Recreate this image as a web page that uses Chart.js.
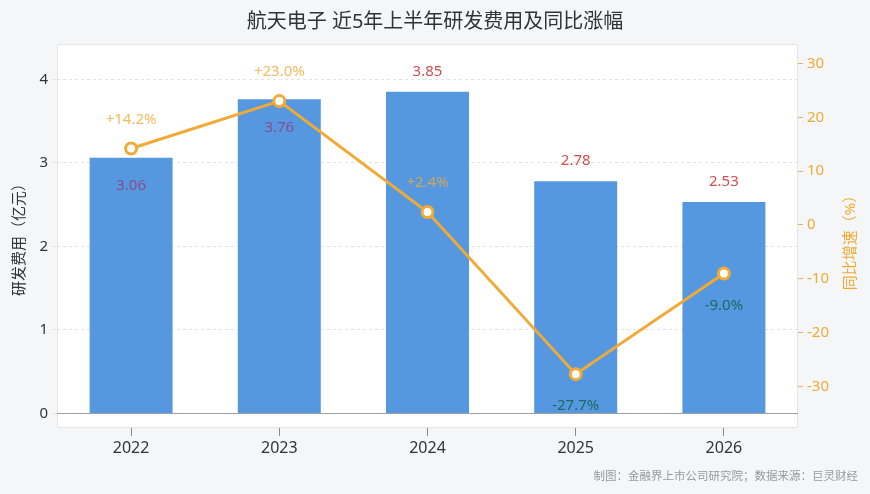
<!DOCTYPE html>
<html>
<head>
<meta charset="utf-8">
<script src="https://cdn.jsdelivr.net/npm/chart.js@4.4.1/dist/chart.umd.min.js"></script>
<style>
    html, body { margin: 0; padding: 0; background: #f5f6f8; }
    #chart { display: block; }
</style>
</head>
<body>
<canvas id="chart" width="870" height="494"></canvas>
<script>
// Chart data
const years = ["2022", "2023", "2024", "2025", "2026"];
const rdExpense = [3.06, 3.76, 3.85, 2.78, 2.53];   // 亿元
const yoyGrowth = [14.2, 23.0, 2.4, -27.7, -9.0];    // %
const leftTicks = [0, 1, 2, 3, 4];
const rightTicks = [-30, -20, -10, 0, 10, 20, 30];

// where each bar value label sits (inside the bar top or above it)
const barLabelPlace = ["in", "in", "out", "out", "out"];

const FONT = "'Noto Sans', 'Noto Sans CJK SC', sans-serif";
const ORANGE = "#f0aa35";

// Plot background, border, titles, zero line and value labels
const decor = {
    id: "decor",
    beforeDraw(chart) {
        const { ctx, chartArea: a } = chart;
        ctx.save();
        ctx.fillStyle = "#ffffff";
        ctx.fillRect(a.left, a.top, a.right - a.left, a.bottom - a.top);
        ctx.strokeStyle = "#e3e5e8";
        ctx.lineWidth = 1;
        ctx.strokeRect(a.left + 0.5, a.top + 0.5, a.right - a.left - 1, a.bottom - a.top - 1);
        ctx.restore();
    },
    afterDatasetsDraw(chart) {
        const { ctx, chartArea: a } = chart;
        const yL = chart.scales.y;
        ctx.save();

        // zero baseline
        const y0 = Math.round(yL.getPixelForValue(0)) + 0.5;
        ctx.strokeStyle = "#a0a0a0";
        ctx.lineWidth = 1.2;
        ctx.beginPath();
        ctx.moveTo(a.left, y0);
        ctx.lineTo(a.right, y0);
        ctx.stroke();

        ctx.textAlign = "center";
        ctx.textBaseline = "middle";
        ctx.font = "15px " + FONT;

        // bar value labels
        chart.getDatasetMeta(1).data.forEach((bar, i) => {
            const inside = barLabelPlace[i] === "in";
            ctx.fillStyle = inside ? "#8a4d8c" : "#cc4f4f";
            ctx.fillText(rdExpense[i].toFixed(2), bar.x, inside ? bar.y + 28 : bar.y - 20);
        });

        // growth labels
        chart.getDatasetMeta(0).data.forEach((pt, i) => {
            const v = yoyGrowth[i];
            if (v >= 0) {
                ctx.fillStyle = "rgba(240,170,53,0.8)";
                ctx.fillText("+" + v.toFixed(1) + "%", pt.x, pt.y - 29);
            } else {
                ctx.fillStyle = "#1c6b62";
                ctx.fillText(v.toFixed(1) + "%", pt.x, pt.y + 32);
            }
        });
        ctx.restore();
    },
    afterDraw(chart) {
        const { ctx, chartArea: a, width } = chart;
        const midY = (a.top + a.bottom) / 2;
        ctx.save();

        // main title
        ctx.fillStyle = "#333333";
        ctx.font = "20px " + FONT;
        ctx.textAlign = "center";
        ctx.textBaseline = "middle";
        ctx.fillText("航天电子 近5年上半年研发费用及同比涨幅", width / 2, 22);

        // axis titles
        ctx.font = "15px " + FONT;
        ctx.save();
        ctx.translate(20, midY);
        ctx.rotate(-Math.PI / 2);
        ctx.fillStyle = "#333333";
        ctx.fillText("研发费用（亿元）", 0, 0);
        ctx.restore();

        ctx.save();
        ctx.translate(851, midY + 3);
        ctx.rotate(-Math.PI / 2);
        ctx.fillStyle = ORANGE;
        ctx.fillText("同比增速（%）", 0, 0);
        ctx.restore();

        // source note
        ctx.font = "11.5px " + FONT;
        ctx.fillStyle = "#999999";
        ctx.textAlign = "right";
        ctx.fillText("制图：金融界上市公司研究院；数据来源：巨灵财经", 858, 477);
        ctx.restore();
    },
};

new Chart(document.getElementById("chart"), {
    data: {
        labels: years,
        datasets: [
            {
                type: "line",
                label: "同比增速",
                data: yoyGrowth,
                yAxisID: "y1",
                order: 0,
                borderColor: ORANGE,
                borderWidth: 3,
                pointRadius: 5.5,
                pointBorderWidth: 3,
                pointBackgroundColor: "#ffffff",
                pointBorderColor: ORANGE,
                tension: 0,
            },
            {
                type: "bar",
                label: "研发费用",
                data: rdExpense,
                yAxisID: "y",
                order: 1,
                backgroundColor: "#5598e0",
                barPercentage: 0.56,
                categoryPercentage: 1,
            },
        ],
    },
    options: {
        responsive: false,
        animation: false,
        layout: { padding: { top: 44, left: 0, right: 0, bottom: 0 } },
        plugins: {
            legend: { display: false },
            tooltip: { enabled: false },
        },
        scales: {
            x: {
                offset: true,
                afterFit(scale) { scale.height = 66; },
                grid: {
                    drawOnChartArea: false,
                    tickLength: 8,
                    color: "#888888",
                    offset: false,
                },
                border: { display: false },
                ticks: {
                    color: "#333333",
                    font: { family: FONT, size: 16 },
                    padding: 3,
                },
            },
            y: {
                position: "left",
                min: -0.175,
                max: 4.423,
                afterFit(scale) { scale.width = 57; },
                afterBuildTicks(scale) {
                    scale.ticks = leftTicks.map(v => ({ value: v }));
                },
                grid: {
                    color: "#e2e2e2",
                    tickLength: 5,
                },
                border: { display: false, dash: [3, 3] },
                ticks: {
                    color: "#333333",
                    font: { family: FONT, size: 15 },
                    padding: 4,
                },
            },
            y1: {
                position: "right",
                min: -37.7,
                max: 33.6,
                afterFit(scale) { scale.width = 72; },
                afterBuildTicks(scale) {
                    scale.ticks = rightTicks.map(v => ({ value: v }));
                },
                grid: {
                    drawOnChartArea: false,
                    tickLength: 5,
                    color: "#e8b060",
                },
                border: { display: false },
                ticks: {
                    color: ORANGE,
                    font: { family: FONT, size: 15 },
                    padding: 4,
                },
            },
        },
    },
    plugins: [decor],
});
</script>
</body>
</html>
